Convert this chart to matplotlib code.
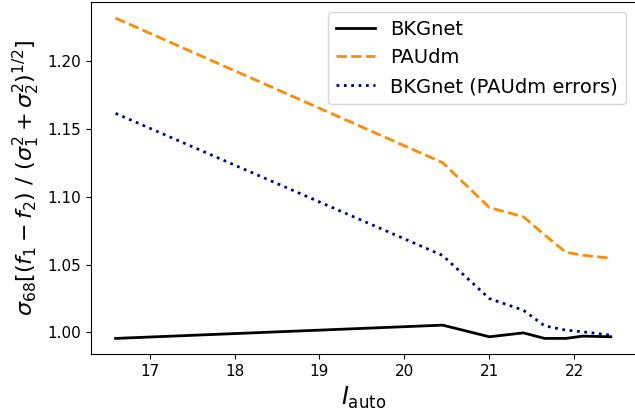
import matplotlib
matplotlib.use("Agg")
import matplotlib.pyplot as plt

# magnitude bins
mag = [16.6, 20.45, 21.0, 21.4, 21.65, 21.9, 22.1, 22.43]
# sigma68 of normalised flux differences
bkgnet = [0.9956, 1.0054, 0.9968, 0.9997, 0.9956, 0.9956, 0.9973, 0.9968]
paudm = [1.232, 1.1253, 1.0922, 1.0854, 1.072, 1.0592, 1.057, 1.0548]
bkgnet_paudm_err = [1.1617, 1.0568, 1.025, 1.0164, 1.0049, 1.0017, 1.0005, 0.998]

fig = plt.figure(figsize=(6.35, 4.16), dpi=100)
ax = fig.add_axes([0.143, 0.148, 0.858, 0.847])

ax.plot(mag, bkgnet, "-", color="black", lw=2, label="BKGnet")
ax.plot(mag, paudm, "--", color="darkorange", lw=2, label="PAUdm")
ax.plot(mag, bkgnet_paudm_err, ":", color="darkblue", lw=2,
        label="BKGnet (PAUdm errors)")

ax.set_xlabel(r"$I_{\rm auto}$", fontsize=17)
ax.set_ylabel(r"$\sigma_{68}[(f_1 - f_2)\ /\ (\sigma_1^2 + \sigma_2^2)^{1/2}]$",
              fontsize=16)
ax.tick_params(labelsize=11)
ax.legend(loc="upper right", fontsize=14)

fig.savefig("out.png", dpi=100)
